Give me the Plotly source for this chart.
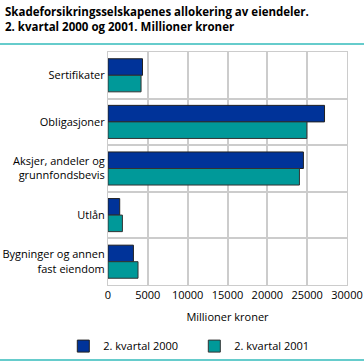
import plotly.graph_objects as go

categories = ["Sertifikater", "Obligasjoner", "Aksjer, andeler og<br>grunnfondsbevis", "Utlån", "Bygninger og annen<br>fast eiendom"]
series_2000 = [4330, 27180, 24530, 1470, 3190]
series_2001 = [4150, 24960, 24030, 1810, 3770]
series_names = ["2. kvartal 2000", "2. kvartal 2001"]
x_ticks = [0, 5000, 10000, 15000, 20000, 25000, 30000]

FONT = "Open Sans"
fig = go.Figure()
fig.add_trace(go.Bar(y=categories, x=series_2000, orientation="h", name=series_names[0],
                     marker=dict(color="#003399", line=dict(color="#222222", width=1))))
fig.add_trace(go.Bar(y=categories, x=series_2001, orientation="h", name=series_names[1],
                     marker=dict(color="#009999", line=dict(color="#333333", width=1))))

fig.update_layout(
    width=364, height=363,
    margin=dict(l=108, r=17, t=52, b=78, autoexpand=False),
    paper_bgcolor="white", plot_bgcolor="white",
    font=dict(family=FONT, size=11, color="#000000"),
    barmode="group", bargap=0.29, bargroupgap=0,
    showlegend=True,
    legend=dict(orientation="h", x=-0.187, xanchor="left", y=-0.2, yanchor="top",
                font=dict(size=11), traceorder="normal", bgcolor="rgba(0,0,0,0)",
                entrywidth=86, entrywidthmode="pixels"),
    xaxis=dict(range=[0, 30000], tickvals=x_ticks, ticktext=[str(v) for v in x_ticks],
               showgrid=True, gridcolor="#cccccc", gridwidth=1.5, zeroline=False,
               showline=True, linecolor="#cccccc", mirror=True, ticks="", automargin=False,
               title=dict(text="Millioner kroner", font=dict(size=11), standoff=12),
               tickfont=dict(size=11)),
    yaxis=dict(autorange="reversed", type="category", tickson="boundaries",
               showgrid=True, gridcolor="#cccccc", gridwidth=1.5, automargin=False,
               showline=True, linecolor="#cccccc", mirror=True, ticks="", ticklen=0,
               tickfont=dict(size=11)),
)

fig.add_annotation(text="<b>Skadeforsikringsselskapenes allokering av eiendeler.<br>2. kvartal 2000 og 2001. Millioner kroner</b>",
                   xref="paper", yref="paper", x=-0.44, y=1.215, xanchor="left", yanchor="top",
                   showarrow=False, align="left", font=dict(size=11.5, family=FONT))
for yv in (1.036, -0.322):
    fig.add_annotation(text=" ", xref="paper", yref="paper", x=-0.452, y=yv, xanchor="left", yanchor="middle",
                       showarrow=False, width=364, height=2, bgcolor="#66cccc", borderpad=0, borderwidth=0,
                       font=dict(size=1))

fig.write_html("out.html", config={"displayModeBar": False},
               post_script="document.body.style.margin='0';document.body.style.overflow='hidden';")
